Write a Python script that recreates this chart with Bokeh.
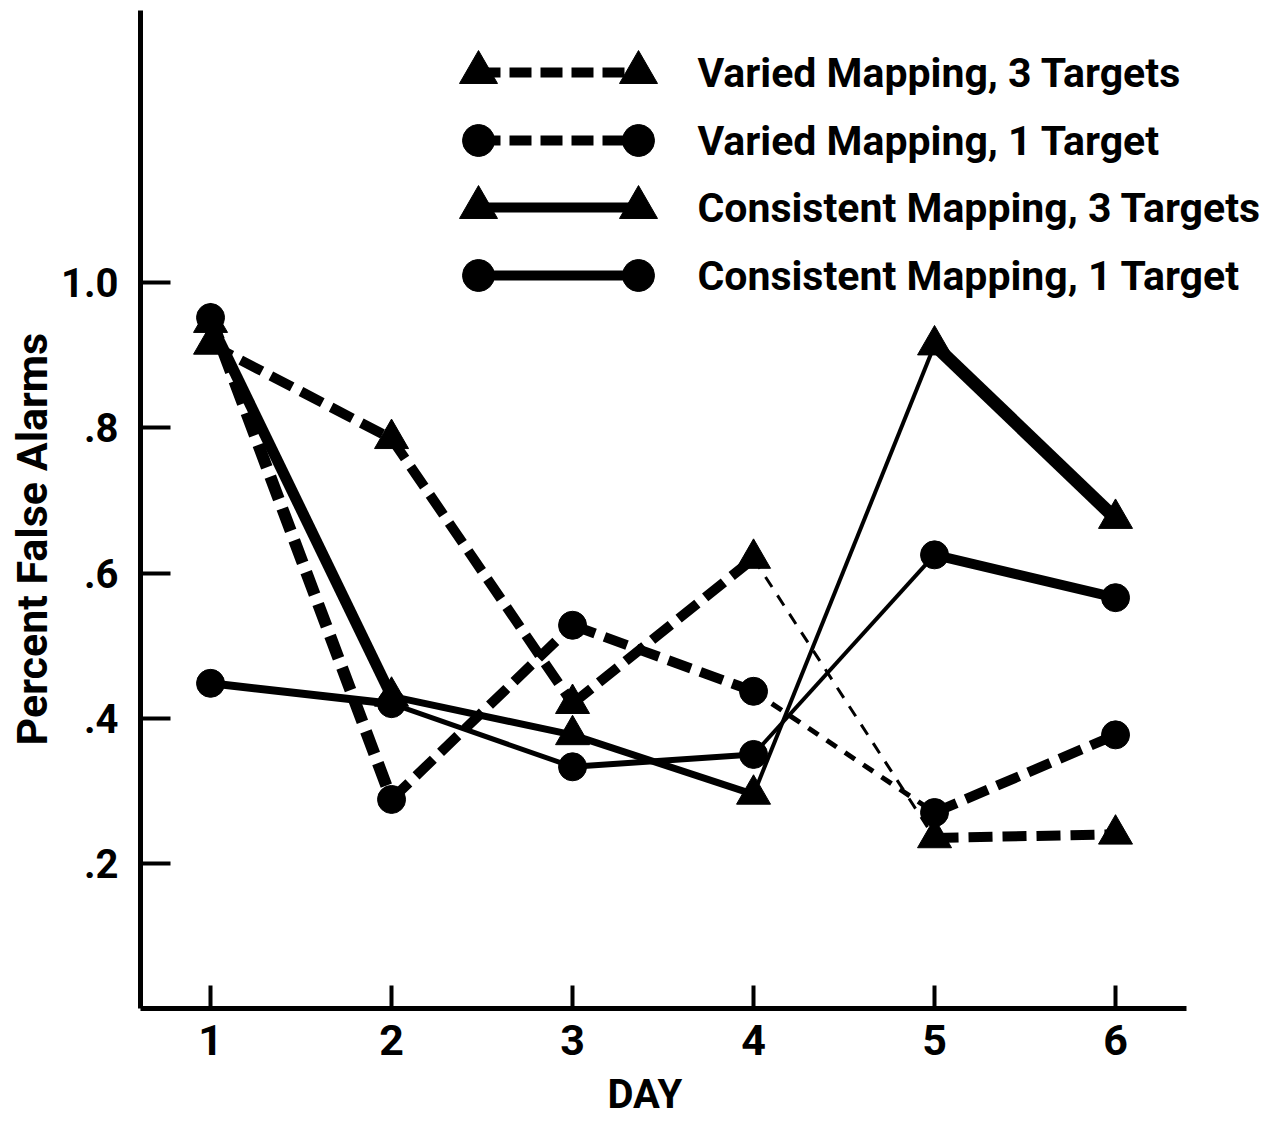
from bokeh.plotting import figure
from bokeh.models import Range1d, Label, FixedTicker, Title
from bokeh.embed import file_html
from bokeh.resources import INLINE

# ---------------- data ----------------
days = [1, 2, 3, 4, 5, 6]
varied_3 = [0.915, 0.785, 0.42, 0.62, 0.235, 0.24]
varied_1 = [0.952, 0.288, 0.528, 0.437, 0.27, 0.377]
consistent_3 = [0.945, 0.43, 0.377, 0.295, 0.914, 0.675]
consistent_1 = [0.448, 0.42, 0.333, 0.35, 0.625, 0.566]

series_labels = ["Varied Mapping, 3 Targets", "Varied Mapping, 1 Target",
                 "Consistent Mapping, 3 Targets", "Consistent Mapping, 1 Target"]
x_ticks = [1, 2, 3, 4, 5, 6]
y_ticks = [0.2, 0.4, 0.6, 0.8, 1.0]
y_tick_labels = [".2", ".4", ".6", ".8", "1.0"]
x_title = "DAY"
y_title = "Percent False Alarms"

# ---------------- styles ----------------
FONT = "Roboto"
# per-segment line widths (the original drawing varies the stroke)
seg_w_v3 = [10, 10, 10, 3, 10]
seg_w_v1 = [12, 10, 10, 5, 10]
seg_w_c3 = [11, 7, 7, 4, 13]
seg_w_c1 = [8, 5, 6, 4, 10]

styles = [
    dict(vals=varied_3, marker="triangle", dash="24 10", widths=seg_w_v3, size=34),
    dict(vals=varied_1, marker="circle", dash="24 10", widths=seg_w_v1, size=28),
    dict(vals=consistent_3, marker="triangle", dash="solid", widths=seg_w_c3, size=34),
    dict(vals=consistent_1, marker="circle", dash="solid", widths=seg_w_c1, size=28),
]

X_START, X_AXIS_END, X_END = 0.613, 6.392, 6.812

p = figure(width=1262, height=1132,
           x_range=Range1d(X_START, X_END), y_range=Range1d(0, 1.375),
           output_backend="svg", toolbar_location=None,
           min_border_left=140, min_border_right=0,
           min_border_top=10, min_border_bottom=124)
p.outline_line_color = None
p.grid.visible = False
p.background_fill_color = "white"

# legend layout space in page-pixel coordinates
p.extra_x_ranges = {"lx": Range1d(140, 1262)}
p.extra_y_ranges = {"ly": Range1d(1008, 10)}

for st in styles:
    v = st["vals"]
    for i in range(len(days) - 1):
        w = st["widths"][i]
        dash = st["dash"]
        if dash != "solid" and w <= 5:
            dash = "12 10"
        p.segment(x0=[days[i]], y0=[v[i]], x1=[days[i + 1]], y1=[v[i + 1]],
                  line_color="black", line_width=w, line_dash=dash, line_cap="butt")
    p.scatter(days, v, marker=st["marker"], size=st["size"],
              fill_color="black", line_color="black")

# legend (drawn like the original: line with a marker at both ends)
legend_rows = [72, 140, 207, 275]
sym_x0, sym_x1, text_x = 478, 638, 697
for st, lab, ry in zip(styles, series_labels, legend_rows):
    dash = st["dash"] if st["dash"] == "solid" else "22 9"
    p.segment(x0=[sym_x0], y0=[ry], x1=[sym_x1], y1=[ry], line_color="black",
              line_width=10, line_dash=dash, x_range_name="lx", y_range_name="ly")
    p.scatter([sym_x0, sym_x1], [ry, ry], marker=st["marker"], size=st["size"] + 4,
              fill_color="black", line_color="black",
              x_range_name="lx", y_range_name="ly")
    p.add_layout(Label(x=text_x, y=ry, x_range_name="lx", y_range_name="ly",
                       text=lab, text_baseline="middle", text_align="left",
                       text_font=FONT, text_font_style="bold",
                       text_font_size="41px", text_color="black"))

# axes
p.xaxis.ticker = FixedTicker(ticks=x_ticks)
p.yaxis.ticker = FixedTicker(ticks=y_ticks)
p.yaxis.major_label_overrides = {t: s for t, s in zip(y_ticks, y_tick_labels)}
p.xaxis.bounds = (X_START, X_AXIS_END)
for ax in (p.xaxis, p.yaxis):
    ax.axis_line_width = 5
    ax.axis_line_color = "black"
    ax.major_tick_line_width = 4
    ax.major_tick_line_color = "black"
    ax.major_tick_out = 0
    ax.minor_tick_line_color = None
    ax.major_label_text_font = FONT
    ax.major_label_text_font_style = "bold"
    ax.major_label_text_color = "black"
p.xaxis.major_label_text_font_size = "43px"
p.yaxis.major_label_text_font_size = "40px"
p.xaxis.major_tick_in = 23
p.yaxis.major_tick_in = 30
p.xaxis.major_label_standoff = 16
p.yaxis.major_label_standoff = 22

# axis titles, placed like the original (centred on the drawn axes)
p.add_layout(Title(text=x_title, align="left", offset=467, standoff=22,
                   vertical_align="bottom",
                   text_font=FONT, text_font_style="bold", text_font_size="40px",
                   text_color="black"), "below")
p.add_layout(Title(text=y_title, align="left", offset=263, standoff=0,
                   vertical_align="middle",
                   text_font=FONT, text_font_style="bold", text_font_size="43px",
                   text_color="black"), "left")

open("out.html", "w").write(file_html(p, INLINE))
